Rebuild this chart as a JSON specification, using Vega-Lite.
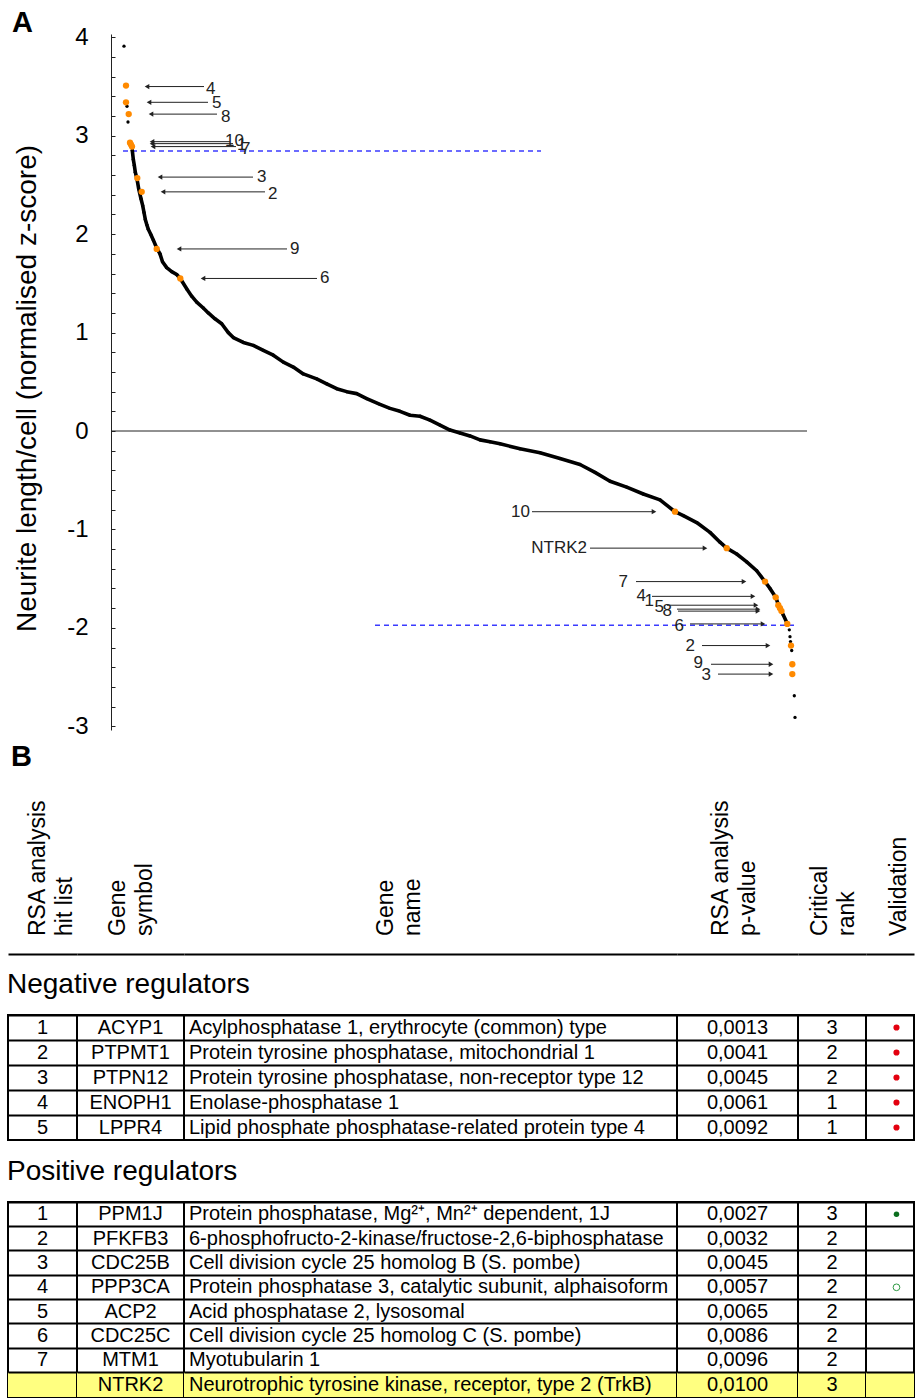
{
"$schema": "https://vega.github.io/schema/vega-lite/v6.json",
"background": "white",
"padding": {"left": 7, "top": 9, "right": 0, "bottom": 0},
"config": {"font": "Liberation Sans", "view": {"stroke": null}, "title": {"color": "black"}},
"datasets": {
"genes": [
{"rank":13,"z":3.91},{"rank":16,"z":3.30},{"rank":17,"z":3.14},
{"rank":21.3,"z":2.85},{"rank":22.3,"z":2.76},{"rank":23.3,"z":2.70},{"rank":24.3,"z":2.63},{"rank":26,"z":2.56},{"rank":27.7,"z":2.46},{"rank":30,"z":2.36},{"rank":31.7,"z":2.29},{"rank":33,"z":2.22},{"rank":34.3,"z":2.15},{"rank":35.7,"z":2.10},{"rank":37.3,"z":2.05},{"rank":39.7,"z":2.00},{"rank":42.3,"z":1.94},{"rank":45.7,"z":1.86},{"rank":49,"z":1.80},{"rank":51.5,"z":1.72},{"rank":55.7,"z":1.66},{"rank":60.7,"z":1.62},{"rank":65.7,"z":1.59},{"rank":69.3,"z":1.55},{"rank":76,"z":1.44},{"rank":80.7,"z":1.37},{"rank":85.7,"z":1.31},{"rank":92.3,"z":1.25},{"rank":97.3,"z":1.20},{"rank":104,"z":1.14},{"rank":110.7,"z":1.09},{"rank":117.3,"z":1.00},{"rank":122.3,"z":0.95},{"rank":132.3,"z":0.90},{"rank":142.3,"z":0.87},{"rank":152.3,"z":0.82},{"rank":162.3,"z":0.77},{"rank":172.3,"z":0.70},{"rank":182.3,"z":0.65},{"rank":192.3,"z":0.58},{"rank":205.7,"z":0.53},{"rank":215.7,"z":0.48},{"rank":225.7,"z":0.43},{"rank":235.7,"z":0.40},{"rank":245.7,"z":0.38},{"rank":255.7,"z":0.33},{"rank":269,"z":0.27},{"rank":279,"z":0.23},{"rank":289,"z":0.20},{"rank":299,"z":0.16},{"rank":309,"z":0.15},{"rank":319,"z":0.11},{"rank":329,"z":0.06},{"rank":339,"z":0.01},{"rank":349,"z":-0.02},{"rank":359,"z":-0.05},{"rank":369,"z":-0.09},{"rank":379,"z":-0.11},{"rank":389,"z":-0.13},{"rank":409,"z":-0.18},{"rank":429,"z":-0.22},{"rank":449,"z":-0.28},{"rank":469,"z":-0.34},{"rank":484,"z":-0.42},{"rank":499,"z":-0.51},{"rank":515.7,"z":-0.57},{"rank":532.3,"z":-0.64},{"rank":549,"z":-0.70},{"rank":564,"z":-0.82},{"rank":572.3,"z":-0.86},{"rank":585.7,"z":-0.93},{"rank":599,"z":-1.03},{"rank":609,"z":-1.13},{"rank":615.7,"z":-1.19},{"rank":625.7,"z":-1.25},{"rank":635.7,"z":-1.33},{"rank":645.7,"z":-1.42},{"rank":654,"z":-1.53},{"rank":659,"z":-1.60},{"rank":664.7,"z":-1.69},{"rank":668,"z":-1.78},{"rank":672.3,"z":-1.87},{"rank":676,"z":-1.95},
{"rank":678.3,"z":-2.02},{"rank":679,"z":-2.09},{"rank":679.5,"z":-2.14},{"rank":680.7,"z":-2.23},{"rank":683.3,"z":-2.69},{"rank":684,"z":-2.91}
],
"hits": [
{"label":"4","group":"top","rank":15,"z":3.51},{"label":"5","group":"top","rank":15,"z":3.34},{"label":"8","group":"top","rank":17.7,"z":3.22},{"label":"10","group":"top","rank":19,"z":2.93},{"label":"1","group":"top","rank":20,"z":2.91},{"label":"7","group":"top","rank":21,"z":2.89},{"label":"3","group":"top","rank":26.3,"z":2.57},{"label":"2","group":"top","rank":30.7,"z":2.43},{"label":"9","group":"top","rank":45.7,"z":1.85},{"label":"6","group":"top","rank":69.3,"z":1.55},
{"label":"10","group":"bottom","rank":564,"z":-0.82},{"label":"NTRK2","group":"bottom","rank":615.7,"z":-1.19},{"label":"7","group":"bottom","rank":654,"z":-1.53},{"label":"4","group":"bottom","rank":664.7,"z":-1.69},{"label":"1","group":"bottom","rank":667.3,"z":-1.77},{"label":"5","group":"bottom","rank":669,"z":-1.80},{"label":"8","group":"bottom","rank":670.5,"z":-1.83},{"label":"6","group":"bottom","rank":676.3,"z":-1.96},{"label":"2","group":"bottom","rank":680,"z":-2.18},{"label":"9","group":"bottom","rank":681.3,"z":-2.37},{"label":"3","group":"bottom","rank":681.3,"z":-2.47}
],
"arrows": [
{"label":"4","side":"top","z":3.50,"from":93,"tip":36,"lr":95,"lz":3.48},
{"label":"5","side":"top","z":3.34,"from":97,"tip":38,"lr":101,"lz":3.33},
{"label":"8","side":"top","z":3.22,"from":106,"tip":40,"lr":110,"lz":3.19},
{"label":"10","side":"top","z":2.94,"from":119,"tip":41,"lr":114,"lz":2.95},
{"label":"1","side":"top","z":2.92,"from":122,"tip":41,"lr":126,"lz":2.91},
{"label":"7","side":"top","z":2.89,"from":125,"tip":42,"lr":130,"lz":2.87},
{"label":"3","side":"top","z":2.58,"from":142,"tip":49,"lr":146,"lz":2.58},
{"label":"2","side":"top","z":2.43,"from":154,"tip":52,"lr":157,"lz":2.41},
{"label":"9","side":"top","z":1.85,"from":176,"tip":68,"lr":179,"lz":1.85},
{"label":"6","side":"top","z":1.55,"from":206,"tip":92,"lr":209,"lz":1.55},
{"label":"10","side":"bottom","z":-0.82,"from":421,"tip":543,"lr":419,"lz":-0.82},
{"label":"NTRK2","side":"bottom","z":-1.19,"from":479,"tip":594,"lr":476,"lz":-1.19},
{"label":"7","side":"bottom","z":-1.53,"from":525,"tip":633,"lr":517,"lz":-1.53},
{"label":"4","side":"bottom","z":-1.68,"from":541,"tip":642,"lr":535,"lz":-1.68},
{"label":"1","side":"bottom","z":-1.77,"from":556,"tip":645,"lr":543,"lz":-1.73},
{"label":"5","side":"bottom","z":-1.81,"from":566,"tip":647,"lr":553,"lz":-1.79},
{"label":"8","side":"bottom","z":-1.83,"from":567,"tip":647,"lr":561,"lz":-1.83},
{"label":"6","side":"bottom","z":-1.96,"from":579,"tip":652,"lr":573,"lz":-1.98},
{"label":"2","side":"bottom","z":-2.18,"from":591,"tip":657,"lr":584,"lz":-2.18},
{"label":"9","side":"bottom","z":-2.37,"from":600,"tip":660,"lr":592,"lz":-2.36},
{"label":"3","side":"bottom","z":-2.47,"from":607,"tip":660,"lr":600,"lz":-2.48}
],
"headers": [
{"col":"hit","label":"RSA analysis\nhit list"},{"col":"symbol","label":"Gene\nsymbol"},{"col":"name","label":"Gene\nname"},{"col":"p","label":"RSA analysis\np-value"},{"col":"rank","label":"Critical\nrank"},{"col":"val","label":"Validation"}
],
"neg": [
{"row":1,"hit":"1","symbol":"ACYP1","name":"Acylphosphatase 1, erythrocyte (common) type","p":"0,0013","crit":"3","validation":"filled"},
{"row":2,"hit":"2","symbol":"PTPMT1","name":"Protein tyrosine phosphatase, mitochondrial 1","p":"0,0041","crit":"2","validation":"filled"},
{"row":3,"hit":"3","symbol":"PTPN12","name":"Protein tyrosine phosphatase, non-receptor type 12","p":"0,0045","crit":"2","validation":"filled"},
{"row":4,"hit":"4","symbol":"ENOPH1","name":"Enolase-phosphatase 1","p":"0,0061","crit":"1","validation":"filled"},
{"row":5,"hit":"5","symbol":"LPPR4","name":"Lipid phosphate phosphatase-related protein type 4","p":"0,0092","crit":"1","validation":"filled"}
],
"pos": [
{"row":1,"hit":"1","symbol":"PPM1J","name":"Protein phosphatase, Mg²⁺, Mn²⁺ dependent, 1J","p":"0,0027","crit":"3","validation":"filled"},
{"row":2,"hit":"2","symbol":"PFKFB3","name":"6-phosphofructo-2-kinase/fructose-2,6-biphosphatase","p":"0,0032","crit":"2","validation":""},
{"row":3,"hit":"3","symbol":"CDC25B","name":"Cell division cycle 25 homolog B (S. pombe)","p":"0,0045","crit":"2","validation":""},
{"row":4,"hit":"4","symbol":"PPP3CA","name":"Protein phosphatase 3, catalytic subunit, alphaisoform","p":"0,0057","crit":"2","validation":"open"},
{"row":5,"hit":"5","symbol":"ACP2","name":"Acid phosphatase 2, lysosomal","p":"0,0065","crit":"2","validation":""},
{"row":6,"hit":"6","symbol":"CDC25C","name":"Cell division cycle 25 homolog C (S. pombe)","p":"0,0086","crit":"2","validation":""},
{"row":7,"hit":"7","symbol":"MTM1","name":"Myotubularin 1","p":"0,0096","crit":"2","validation":""},
{"row":8,"hit":"","symbol":"NTRK2","name":"Neurotrophic tyrosine kinase, receptor, type 2 (TrkB)","p":"0,0100","crit":"3","validation":""}
]
},
"spacing": 4,
"vconcat": [
{
"width": 906, "height": 696,
"title": {"text": "A", "anchor": "start", "frame": "bounds", "fontSize": 29, "fontWeight": "bold", "dx": 4, "offset": -13},
"encoding": {
"x": {"field": "rank", "type": "quantitative", "scale": {"domain": [-103, 803], "nice": false, "zero": false}, "axis": null},
"y": {"field": "z", "type": "quantitative", "scale": {"domain": [-3.038, 4.034], "nice": false, "zero": false},
"axis": {"orient": "left", "offset": -103, "values": [-3,-2.8,-2.6,-2.4,-2.2,-2,-1.8,-1.6,-1.4,-1.2,-1,-0.8,-0.6,-0.4,-0.2,0,0.2,0.4,0.6,0.8,1,1.2,1.4,1.6,1.8,2,2.2,2.4,2.6,2.8,3,3.2,3.4,3.6,3.8,4],
"labelExpr": "datum.value % 1 === 0 ? '' + datum.value : ''", "labelOverlap": false, "labelFlush": false, "labelBound": false,
"tickSize": -4, "tickColor": "#222", "tickWidth": 1, "domainColor": "#222", "domainWidth": 1,
"labelFontSize": 24, "labelColor": "black", "labelPadding": 27, "grid": false,
"title": "Neurite length/cell (normalised z-score)", "titleFontSize": 28, "titleFontWeight": "normal", "titleColor": "black", "titlePadding": 25, "titleY": 354}}
},
"layer": [
{"data": {"values": [{"rank": 0, "rank2": 696, "z": 0}]}, "mark": {"type": "rule", "color": "#222", "strokeWidth": 1}, "encoding": {"x2": {"field": "rank2"}}},
{"data": {"values": [{"rank": 12, "rank2": 430, "z": 2.845}, {"rank": 264, "rank2": 684, "z": -1.974}]}, "mark": {"type": "rule", "color": "#3b3bff", "strokeWidth": 1.5, "strokeDash": [5, 4]}, "encoding": {"x2": {"field": "rank2"}}},
{"data": {"name": "genes"}, "transform": [{"filter": "datum.rank >= 21 && datum.rank <= 676"}], "mark": {"type": "line", "color": "black", "strokeWidth": 3.6, "strokeCap": "round", "strokeJoin": "round"}, "encoding": {}},
{"data": {"name": "genes"}, "mark": {"type": "circle", "color": "black", "size": 11, "opacity": 1}, "encoding": {}},
{"data": {"name": "arrows"}, "mark": {"type": "rule", "color": "#222", "strokeWidth": 1}, "encoding": {"x": {"field": "from", "type": "quantitative"}, "x2": {"field": "tip"}}},
{"data": {"name": "arrows"}, "mark": {"type": "point", "filled": true, "color": "#222", "size": 28, "opacity": 1}, "encoding": {"x": {"field": "tip", "type": "quantitative"}, "shape": {"field": "side", "type": "nominal", "scale": {"domain": ["top", "bottom"], "range": ["triangle-left", "triangle-right"]}, "legend": null}}},
{"data": {"name": "arrows"}, "transform": [{"filter": "datum.side === 'top'"}], "mark": {"type": "text", "align": "left", "baseline": "middle", "fontSize": 17, "color": "#222"}, "encoding": {"x": {"field": "lr", "type": "quantitative"}, "y": {"field": "lz", "type": "quantitative"}, "text": {"field": "label"}}},
{"data": {"name": "arrows"}, "transform": [{"filter": "datum.side === 'bottom'"}], "mark": {"type": "text", "align": "right", "baseline": "middle", "fontSize": 17, "color": "#222"}, "encoding": {"x": {"field": "lr", "type": "quantitative"}, "y": {"field": "lz", "type": "quantitative"}, "text": {"field": "label"}}},
{"data": {"name": "hits"}, "mark": {"type": "circle", "color": "#ff8a00", "size": 40, "opacity": 1}, "encoding": {}}
]
},
{
"title": {"text": "B", "anchor": "start", "frame": "bounds", "fontSize": 29, "fontWeight": "bold", "dx": 4, "offset": 12},
"spacing": 17,
"vconcat": [
{
"spacing": 0, "bounds": "flush",
"hconcat": [
{"width": 69, "height": 170, "data": {"name": "headers"}, "transform": [{"filter": "datum.col === 'hit'"}], "mark": {"type": "text", "angle": 270, "align": "left", "baseline": "middle", "fontSize": 23, "lineHeight": 27, "lineBreak": "\n", "dx": 18, "color": "black"}, "encoding": {"text": {"field": "label"}, "x": {"datum": 0.435, "type": "quantitative", "scale": {"domain": [0, 1]}, "axis": {"domainColor": "black", "domainWidth": 2, "ticks": false, "labels": false, "grid": false, "title": null}}, "y": {"datum": 0, "type": "quantitative", "scale": {"domain": [0, 1]}, "axis": null}}},
{"width": 107, "height": 170, "data": {"name": "headers"}, "transform": [{"filter": "datum.col === 'symbol'"}], "mark": {"type": "text", "angle": 270, "align": "left", "baseline": "middle", "fontSize": 23, "lineHeight": 27, "lineBreak": "\n", "dx": 18, "color": "black"}, "encoding": {"text": {"field": "label"}, "x": {"datum": 0.383, "type": "quantitative", "scale": {"domain": [0, 1]}, "axis": {"domainColor": "black", "domainWidth": 2, "ticks": false, "labels": false, "grid": false, "title": null}}, "y": {"datum": 0, "type": "quantitative", "scale": {"domain": [0, 1]}, "axis": null}}},
{"width": 493, "height": 170, "data": {"name": "headers"}, "transform": [{"filter": "datum.col === 'name'"}], "mark": {"type": "text", "angle": 270, "align": "left", "baseline": "middle", "fontSize": 23, "lineHeight": 27, "lineBreak": "\n", "dx": 18, "color": "black"}, "encoding": {"text": {"field": "label"}, "x": {"datum": 0.41, "type": "quantitative", "scale": {"domain": [0, 1]}, "axis": {"domainColor": "black", "domainWidth": 2, "ticks": false, "labels": false, "grid": false, "title": null}}, "y": {"datum": 0, "type": "quantitative", "scale": {"domain": [0, 1]}, "axis": null}}},
{"width": 121, "height": 170, "data": {"name": "headers"}, "transform": [{"filter": "datum.col === 'p'"}], "mark": {"type": "text", "angle": 270, "align": "left", "baseline": "middle", "fontSize": 23, "lineHeight": 27, "lineBreak": "\n", "dx": 18, "color": "black"}, "encoding": {"text": {"field": "label"}, "x": {"datum": 0.364, "type": "quantitative", "scale": {"domain": [0, 1]}, "axis": {"domainColor": "black", "domainWidth": 2, "ticks": false, "labels": false, "grid": false, "title": null}}, "y": {"datum": 0, "type": "quantitative", "scale": {"domain": [0, 1]}, "axis": null}}},
{"width": 68, "height": 170, "data": {"name": "headers"}, "transform": [{"filter": "datum.col === 'rank'"}], "mark": {"type": "text", "angle": 270, "align": "left", "baseline": "middle", "fontSize": 23, "lineHeight": 27, "lineBreak": "\n", "dx": 18, "color": "black"}, "encoding": {"text": {"field": "label"}, "x": {"datum": 0.324, "type": "quantitative", "scale": {"domain": [0, 1]}, "axis": {"domainColor": "black", "domainWidth": 2, "ticks": false, "labels": false, "grid": false, "title": null}}, "y": {"datum": 0, "type": "quantitative", "scale": {"domain": [0, 1]}, "axis": null}}},
{"width": 48, "height": 170, "data": {"name": "headers"}, "transform": [{"filter": "datum.col === 'val'"}], "mark": {"type": "text", "angle": 270, "align": "left", "baseline": "middle", "fontSize": 23, "lineHeight": 27, "lineBreak": "\n", "dx": 18, "color": "black"}, "encoding": {"text": {"field": "label"}, "x": {"datum": 0.69, "type": "quantitative", "scale": {"domain": [0, 1]}, "axis": {"domainColor": "black", "domainWidth": 2, "ticks": false, "labels": false, "grid": false, "title": null}}, "y": {"datum": 0, "type": "quantitative", "scale": {"domain": [0, 1]}, "axis": null}}}
]
},
{
"title": {"text": "Negative regulators", "anchor": "start", "frame": "bounds", "fontSize": 28, "fontWeight": "normal", "offset": 15},
"spacing": 0, "bounds": "flush",
"hconcat": [
{"width": 69, "height": 125, "data": {"name": "neg"}, "view": {"stroke": "black", "strokeWidth": 2}, "mark": {"type": "text", "fontSize": 20, "baseline": "middle", "color": "black"}, "encoding": {"y": {"field": "row", "type": "ordinal", "scale": {"type": "band", "domain": [1,2,3,4,5], "paddingInner": 0, "paddingOuter": 0}, "axis": {"grid": true, "bandPosition": 0, "gridColor": "black", "gridWidth": 2, "domain": false, "ticks": false, "labels": false, "title": null, "zindex": 1}}, "x": {"datum": 0.5, "type": "quantitative", "scale": {"domain": [0, 1]}, "axis": null}, "text": {"field": "hit"}}},
{"width": 107, "height": 125, "data": {"name": "neg"}, "view": {"stroke": "black", "strokeWidth": 2}, "mark": {"type": "text", "fontSize": 20, "baseline": "middle", "color": "black"}, "encoding": {"y": {"field": "row", "type": "ordinal", "scale": {"type": "band", "domain": [1,2,3,4,5], "paddingInner": 0, "paddingOuter": 0}, "axis": {"grid": true, "bandPosition": 0, "gridColor": "black", "gridWidth": 2, "domain": false, "ticks": false, "labels": false, "title": null, "zindex": 1}}, "x": {"datum": 0.5, "type": "quantitative", "scale": {"domain": [0, 1]}, "axis": null}, "text": {"field": "symbol"}}},
{"width": 493, "height": 125, "data": {"name": "neg"}, "view": {"stroke": "black", "strokeWidth": 2}, "mark": {"type": "text", "fontSize": 20, "baseline": "middle", "align": "left", "dx": 5, "color": "black"}, "encoding": {"y": {"field": "row", "type": "ordinal", "scale": {"type": "band", "domain": [1,2,3,4,5], "paddingInner": 0, "paddingOuter": 0}, "axis": {"grid": true, "bandPosition": 0, "gridColor": "black", "gridWidth": 2, "domain": false, "ticks": false, "labels": false, "title": null, "zindex": 1}}, "x": {"datum": 0, "type": "quantitative", "scale": {"domain": [0, 1]}, "axis": null}, "text": {"field": "name"}}},
{"width": 121, "height": 125, "data": {"name": "neg"}, "view": {"stroke": "black", "strokeWidth": 2}, "mark": {"type": "text", "fontSize": 20, "baseline": "middle", "color": "black"}, "encoding": {"y": {"field": "row", "type": "ordinal", "scale": {"type": "band", "domain": [1,2,3,4,5], "paddingInner": 0, "paddingOuter": 0}, "axis": {"grid": true, "bandPosition": 0, "gridColor": "black", "gridWidth": 2, "domain": false, "ticks": false, "labels": false, "title": null, "zindex": 1}}, "x": {"datum": 0.5, "type": "quantitative", "scale": {"domain": [0, 1]}, "axis": null}, "text": {"field": "p"}}},
{"width": 68, "height": 125, "data": {"name": "neg"}, "view": {"stroke": "black", "strokeWidth": 2}, "mark": {"type": "text", "fontSize": 20, "baseline": "middle", "color": "black"}, "encoding": {"y": {"field": "row", "type": "ordinal", "scale": {"type": "band", "domain": [1,2,3,4,5], "paddingInner": 0, "paddingOuter": 0}, "axis": {"grid": true, "bandPosition": 0, "gridColor": "black", "gridWidth": 2, "domain": false, "ticks": false, "labels": false, "title": null, "zindex": 1}}, "x": {"datum": 0.5, "type": "quantitative", "scale": {"domain": [0, 1]}, "axis": null}, "text": {"field": "crit"}}},
{"width": 48, "height": 125, "data": {"name": "neg"}, "view": {"stroke": "black", "strokeWidth": 2}, "transform": [{"filter": "datum.validation === 'filled'"}], "mark": {"type": "circle", "size": 38, "color": "#e3000f", "opacity": 1}, "encoding": {"y": {"field": "row", "type": "ordinal", "scale": {"type": "band", "domain": [1,2,3,4,5], "paddingInner": 0, "paddingOuter": 0}, "axis": {"grid": true, "bandPosition": 0, "gridColor": "black", "gridWidth": 2, "domain": false, "ticks": false, "labels": false, "title": null, "zindex": 1}}, "x": {"datum": 0.635, "type": "quantitative", "scale": {"domain": [0, 1]}, "axis": null}}}
]
},
{
"title": {"text": "Positive regulators", "anchor": "start", "frame": "bounds", "fontSize": 28, "fontWeight": "normal", "offset": 15},
"spacing": 0, "bounds": "flush",
"hconcat": [
{"width": 69, "height": 195, "data": {"name": "pos"}, "view": {"stroke": "black", "strokeWidth": 2},
"encoding": {"y": {"field": "row", "type": "ordinal", "scale": {"type": "band", "domain": [1,2,3,4,5,6,7,8], "paddingInner": 0, "paddingOuter": 0}, "axis": {"grid": true, "bandPosition": 0, "gridColor": "black", "gridWidth": 2, "domain": false, "ticks": false, "labels": false, "title": null, "zindex": 1}}},
"layer": [
{"transform": [{"filter": "datum.hit === ''"}], "mark": {"type": "rect", "color": "#ffff80"}, "encoding": {"x": {"datum": 0, "type": "quantitative", "scale": {"domain": [0, 1]}, "axis": null}, "x2": {"datum": 1}}},
{"mark": {"type": "text", "fontSize": 20, "baseline": "middle", "color": "black"}, "encoding": {"x": {"datum": 0.5, "type": "quantitative", "scale": {"domain": [0, 1]}, "axis": null}, "text": {"field": "hit"}}}
]},
{"width": 107, "height": 195, "data": {"name": "pos"}, "view": {"stroke": "black", "strokeWidth": 2},
"encoding": {"y": {"field": "row", "type": "ordinal", "scale": {"type": "band", "domain": [1,2,3,4,5,6,7,8], "paddingInner": 0, "paddingOuter": 0}, "axis": {"grid": true, "bandPosition": 0, "gridColor": "black", "gridWidth": 2, "domain": false, "ticks": false, "labels": false, "title": null, "zindex": 1}}},
"layer": [
{"transform": [{"filter": "datum.hit === ''"}], "mark": {"type": "rect", "color": "#ffff80"}, "encoding": {"x": {"datum": 0, "type": "quantitative", "scale": {"domain": [0, 1]}, "axis": null}, "x2": {"datum": 1}}},
{"mark": {"type": "text", "fontSize": 20, "baseline": "middle", "color": "black"}, "encoding": {"x": {"datum": 0.5, "type": "quantitative", "scale": {"domain": [0, 1]}, "axis": null}, "text": {"field": "symbol"}}}
]},
{"width": 493, "height": 195, "data": {"name": "pos"}, "view": {"stroke": "black", "strokeWidth": 2},
"encoding": {"y": {"field": "row", "type": "ordinal", "scale": {"type": "band", "domain": [1,2,3,4,5,6,7,8], "paddingInner": 0, "paddingOuter": 0}, "axis": {"grid": true, "bandPosition": 0, "gridColor": "black", "gridWidth": 2, "domain": false, "ticks": false, "labels": false, "title": null, "zindex": 1}}},
"layer": [
{"transform": [{"filter": "datum.hit === ''"}], "mark": {"type": "rect", "color": "#ffff80"}, "encoding": {"x": {"datum": 0, "type": "quantitative", "scale": {"domain": [0, 1]}, "axis": null}, "x2": {"datum": 1}}},
{"mark": {"type": "text", "fontSize": 20, "baseline": "middle", "align": "left", "dx": 5, "color": "black"}, "encoding": {"x": {"datum": 0, "type": "quantitative", "scale": {"domain": [0, 1]}, "axis": null}, "text": {"field": "name"}}}
]},
{"width": 121, "height": 195, "data": {"name": "pos"}, "view": {"stroke": "black", "strokeWidth": 2},
"encoding": {"y": {"field": "row", "type": "ordinal", "scale": {"type": "band", "domain": [1,2,3,4,5,6,7,8], "paddingInner": 0, "paddingOuter": 0}, "axis": {"grid": true, "bandPosition": 0, "gridColor": "black", "gridWidth": 2, "domain": false, "ticks": false, "labels": false, "title": null, "zindex": 1}}},
"layer": [
{"transform": [{"filter": "datum.hit === ''"}], "mark": {"type": "rect", "color": "#ffff80"}, "encoding": {"x": {"datum": 0, "type": "quantitative", "scale": {"domain": [0, 1]}, "axis": null}, "x2": {"datum": 1}}},
{"mark": {"type": "text", "fontSize": 20, "baseline": "middle", "color": "black"}, "encoding": {"x": {"datum": 0.5, "type": "quantitative", "scale": {"domain": [0, 1]}, "axis": null}, "text": {"field": "p"}}}
]},
{"width": 68, "height": 195, "data": {"name": "pos"}, "view": {"stroke": "black", "strokeWidth": 2},
"encoding": {"y": {"field": "row", "type": "ordinal", "scale": {"type": "band", "domain": [1,2,3,4,5,6,7,8], "paddingInner": 0, "paddingOuter": 0}, "axis": {"grid": true, "bandPosition": 0, "gridColor": "black", "gridWidth": 2, "domain": false, "ticks": false, "labels": false, "title": null, "zindex": 1}}},
"layer": [
{"transform": [{"filter": "datum.hit === ''"}], "mark": {"type": "rect", "color": "#ffff80"}, "encoding": {"x": {"datum": 0, "type": "quantitative", "scale": {"domain": [0, 1]}, "axis": null}, "x2": {"datum": 1}}},
{"mark": {"type": "text", "fontSize": 20, "baseline": "middle", "color": "black"}, "encoding": {"x": {"datum": 0.5, "type": "quantitative", "scale": {"domain": [0, 1]}, "axis": null}, "text": {"field": "crit"}}}
]},
{"width": 48, "height": 195, "data": {"name": "pos"}, "view": {"stroke": "black", "strokeWidth": 2},
"encoding": {"y": {"field": "row", "type": "ordinal", "scale": {"type": "band", "domain": [1,2,3,4,5,6,7,8], "paddingInner": 0, "paddingOuter": 0}, "axis": {"grid": true, "bandPosition": 0, "gridColor": "black", "gridWidth": 2, "domain": false, "ticks": false, "labels": false, "title": null, "zindex": 1}}},
"layer": [
{"transform": [{"filter": "datum.hit === ''"}], "mark": {"type": "rect", "color": "#ffff80"}, "encoding": {"x": {"datum": 0, "type": "quantitative", "scale": {"domain": [0, 1]}, "axis": null}, "x2": {"datum": 1}}},
{"transform": [{"filter": "datum.validation === 'filled'"}], "mark": {"type": "circle", "size": 30, "color": "#0a6e1e", "opacity": 1}, "encoding": {"x": {"datum": 0.635, "type": "quantitative", "scale": {"domain": [0, 1]}, "axis": null}}},
{"transform": [{"filter": "datum.validation === 'open'"}], "mark": {"type": "point", "shape": "circle", "filled": false, "size": 45, "strokeWidth": 1, "color": "#2f9a44", "opacity": 1}, "encoding": {"x": {"datum": 0.635, "type": "quantitative", "scale": {"domain": [0, 1]}, "axis": null}}}
]}
]
}
]
}
]
}
